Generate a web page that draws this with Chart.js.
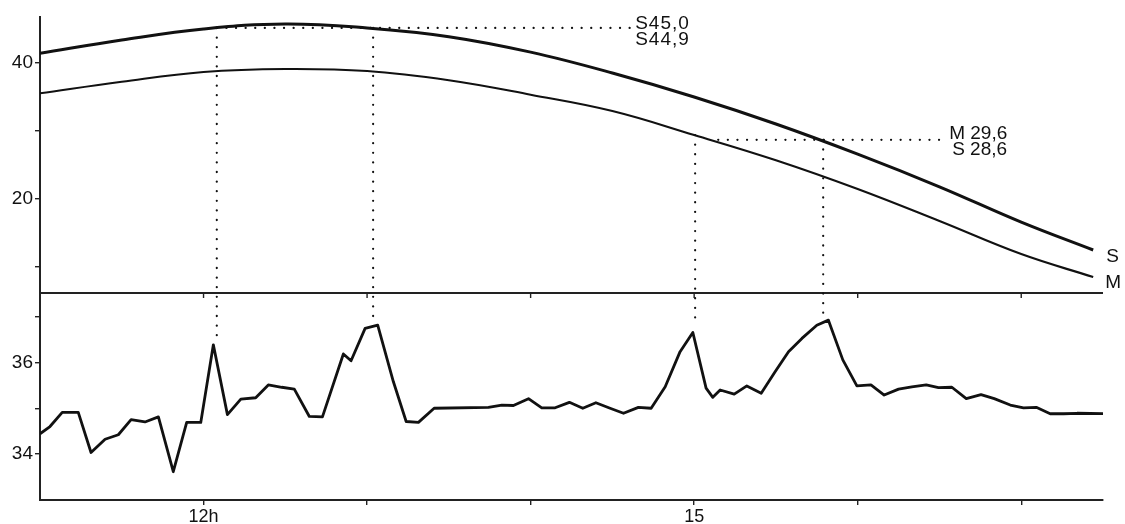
<!DOCTYPE html>
<html>
<head>
<meta charset="utf-8">
<script src="https://cdn.jsdelivr.net/npm/chart.js@4.4.1/dist/chart.umd.min.js"></script>
<style>
  html, body { margin: 0; padding: 0; background: #fff; }
  #wrap { width: 1125px; height: 524px; }
</style>
</head>
<body>
<div id="wrap"><canvas id="chart" width="1125" height="524"></canvas></div>
<script>
// ===== data =====
// hours of day (decimal) for the two elevation curves
const elevHours = [11.0, 11.5, 12.0, 12.5, 13.0, 13.5, 14.0, 14.5, 15.0, 15.5, 16.0, 16.5, 17.0, 17.44];
const elevS = [41.43, 43.38, 45.0, 45.74, 45.15, 43.87, 41.6, 38.53, 35.0, 31.03, 26.6, 21.8, 16.6, 12.5];
const elevM = [35.54, 37.25, 38.68, 39.12, 38.82, 37.46, 35.34, 32.94, 29.41, 25.7, 21.47, 16.76, 11.9, 8.53];

// lower panel series
const lowHours = [11.0, 11.061, 11.136, 11.234, 11.312, 11.398, 11.479, 11.557, 11.642, 11.724,
  11.815, 11.897, 11.983, 12.060, 12.146, 12.228, 12.319, 12.396, 12.478, 12.555,
  12.647, 12.727, 12.855, 12.902, 12.988, 13.065, 13.161, 13.239, 13.314, 13.410,
  13.742, 13.824, 13.895, 13.987, 14.068, 14.150, 14.237, 14.319, 14.399, 14.486,
  14.568, 14.659, 14.737, 14.823, 14.914, 14.992, 15.073, 15.114, 15.159, 15.245,
  15.322, 15.410, 15.495, 15.577, 15.659, 15.750, 15.821, 15.909, 15.995, 16.081,
  16.162, 16.250, 16.331, 16.419, 16.494, 16.576, 16.664, 16.754, 16.835, 16.933,
  17.014, 17.092, 17.177, 17.259, 17.341, 17.503];
const lowValues = [34.44, 34.60, 34.91, 34.91, 34.03, 34.32, 34.42, 34.75, 34.70, 34.81,
  33.61, 34.69, 34.69, 36.39, 34.86, 35.20, 35.23, 35.51, 35.46, 35.42,
  34.82, 34.81, 36.19, 36.04, 36.75, 36.82, 35.58, 34.71, 34.69, 35.00,
  35.02, 35.07, 35.06, 35.21, 35.01, 35.01, 35.13, 35.00, 35.12, 35.00,
  34.89, 35.02, 35.00, 35.47, 36.24, 36.66, 35.44, 35.24, 35.40, 35.31,
  35.49, 35.33, 35.80, 36.24, 36.53, 36.82, 36.93, 36.06, 35.49, 35.51,
  35.29, 35.42, 35.47, 35.51, 35.45, 35.46, 35.21, 35.30, 35.21, 35.07,
  35.01, 35.02, 34.88, 34.88, 34.89, 34.88];

// axis ticks
const hourTicks = [12, 13, 14, 15, 16, 17];
const hourLabels = { 12: "12h", 15: "15" };
const topTicks = [10, 20, 30, 40];
const topLabels = [20, 40];
const lowTicks = [34, 35, 36, 37];
const lowLabels = [34, 36];

// dotted guides: vertical at hour, from upper-panel value down to lower-panel value
const guideHours = [12.081, 13.037, 15.006, 15.789];
const guideTop = [45.15, 45.15, 29.41, 28.7];
const guideLow = [36.5, 36.93, 36.8, 37.04];

// horizontal dotted leaders with their readings
const leaderFrom = [12.081, 15.147];
const leaderTo = [14.627, 16.547];
const leaderLevel = [45.15, 28.7];
const leaderText = [["S45,0", "S44,9"], ["M 29,6", "S 28,6"]];

const FONT = "'Liberation Sans', Arial, sans-serif";
const INK = "#111";

function pts(xs, ys) { return xs.map((x, i) => ({ x, y: ys[i] })); }

// ===== extra drawing: separator, dotted guides, text =====
const decorPlugin = {
  id: "decor",
  afterDatasetsDraw(chart) {
    const { ctx, chartArea } = chart;
    const x = chart.scales.x, yT = chart.scales.yTop, yL = chart.scales.yLow;
    ctx.save();

    // separator between the panels + its small hour ticks
    const sepY = yL.top;
    ctx.strokeStyle = "#222";
    ctx.lineWidth = 2;
    ctx.beginPath();
    ctx.moveTo(chartArea.left, sepY);
    ctx.lineTo(chartArea.right, sepY);
    ctx.stroke();
    ctx.lineWidth = 1.4;
    ctx.beginPath();
    hourTicks.forEach(h => {
      const px = x.getPixelForValue(h);
      ctx.moveTo(px, sepY);
      ctx.lineTo(px, sepY + 5);
    });
    ctx.stroke();

    // dotted lines
    ctx.strokeStyle = INK;
    ctx.lineWidth = 2.2;
    ctx.lineCap = "round";
    ctx.setLineDash([0.1, 9.5]);
    guideHours.forEach((h, i) => {
      const px = x.getPixelForValue(h);
      ctx.beginPath();
      ctx.moveTo(px, yT.getPixelForValue(guideTop[i]));
      ctx.lineTo(px, yL.getPixelForValue(guideLow[i]));
      ctx.stroke();
    });
    leaderLevel.forEach((v, i) => {
      const py = yT.getPixelForValue(v);
      ctx.beginPath();
      ctx.moveTo(x.getPixelForValue(leaderFrom[i]), py);
      ctx.lineTo(x.getPixelForValue(leaderTo[i]), py);
      ctx.stroke();
    });
    ctx.setLineDash([]);

    // readings at leader ends
    ctx.fillStyle = INK;
    ctx.font = "19px " + FONT;
    ctx.textAlign = "left";
    ctx.textBaseline = "alphabetic";
    leaderText.forEach((lines, i) => {
      const px = x.getPixelForValue(leaderTo[i]) + 2;
      const py = yT.getPixelForValue(leaderLevel[i]);
      if (i === 0) {
        ctx.letterSpacing = "1px";
        ctx.fillText(lines[0], px, py + 1);
        ctx.fillText(lines[1], px, py + 17);
        ctx.letterSpacing = "0px";
      } else {
        ctx.fillText(lines[0], px, py - 1);
        ctx.fillText(lines[1], px + 3, py + 15);
      }
    });

    // curve names at the line ends
    const n = elevHours.length - 1;
    const ex = x.getPixelForValue(elevHours[n]);
    ctx.fillText("S", ex + 13, yT.getPixelForValue(elevS[n]) + 12);
    ctx.fillText("M", ex + 12, yT.getPixelForValue(elevM[n]) + 11);

    ctx.restore();
  },
};

const fixedWidth = s => { s.width = 40; };

new Chart(document.getElementById("chart"), {
  type: "line",
  data: {
    datasets: [
      {
        data: pts(elevHours, elevS),
        yAxisID: "yTop",
        borderColor: INK,
        borderWidth: 3,
        tension: 0.4,
        pointRadius: 0,
        fill: false,
      },
      {
        data: pts(elevHours, elevM),
        yAxisID: "yTop",
        borderColor: INK,
        borderWidth: 2.1,
        tension: 0.4,
        pointRadius: 0,
        fill: false,
      },
      {
        data: pts(lowHours, lowValues),
        yAxisID: "yLow",
        borderColor: INK,
        borderWidth: 2.8,
        borderJoinStyle: "round",
        tension: 0,
        pointRadius: 0,
        fill: false,
      },
    ],
  },
  options: {
    responsive: false,
    devicePixelRatio: 1,
    animation: false,
    layout: { padding: { top: 17, right: 22, left: 0, bottom: 0 } },
    plugins: { legend: { display: false }, tooltip: { enabled: false } },
    scales: {
      x: {
        type: "linear",
        min: 11,
        max: 17.5,
        afterBuildTicks: s => { s.ticks = hourTicks.map(v => ({ value: v })); },
        afterFit: s => { s.height = 24; },
        border: { display: true, color: "#222", width: 2 },
        grid: { drawOnChartArea: false, drawTicks: true, tickLength: 5, color: "#222", lineWidth: 1.4 },
        ticks: {
          color: INK,
          font: { family: FONT, size: 18 },
          padding: 1,
          maxRotation: 0,
          autoSkip: false,
          callback: v => hourLabels[v] || "",
        },
      },
      yLow: {
        type: "linear",
        position: "left",
        stack: "panels",
        stackWeight: 207,
        weight: 1,
        min: 32.99,
        max: 37.525,
        afterBuildTicks: s => { s.ticks = lowTicks.map(v => ({ value: v })); },
        afterFit: fixedWidth,
        border: { display: true, color: "#222", width: 2 },
        grid: { drawOnChartArea: false, drawTicks: true, tickLength: 5, color: "#222", lineWidth: 1.4 },
        ticks: {
          color: INK,
          font: { family: FONT, size: 19 },
          padding: 2,
          callback: v => (lowLabels.includes(v) ? String(v) : ""),
        },
      },
      yTop: {
        type: "linear",
        position: "left",
        stack: "panels",
        stackWeight: 276,
        weight: 2,
        min: 6.18,
        max: 46.76,
        afterBuildTicks: s => { s.ticks = topTicks.map(v => ({ value: v })); },
        afterFit: fixedWidth,
        border: { display: true, color: "#222", width: 2 },
        grid: { drawOnChartArea: false, drawTicks: true, tickLength: 5, color: "#222", lineWidth: 1.4 },
        ticks: {
          color: INK,
          font: { family: FONT, size: 19 },
          padding: 2,
          callback: v => (topLabels.includes(v) ? String(v) : ""),
        },
      },
    },
  },
  plugins: [decorPlugin],
});
</script>
</body>
</html>
